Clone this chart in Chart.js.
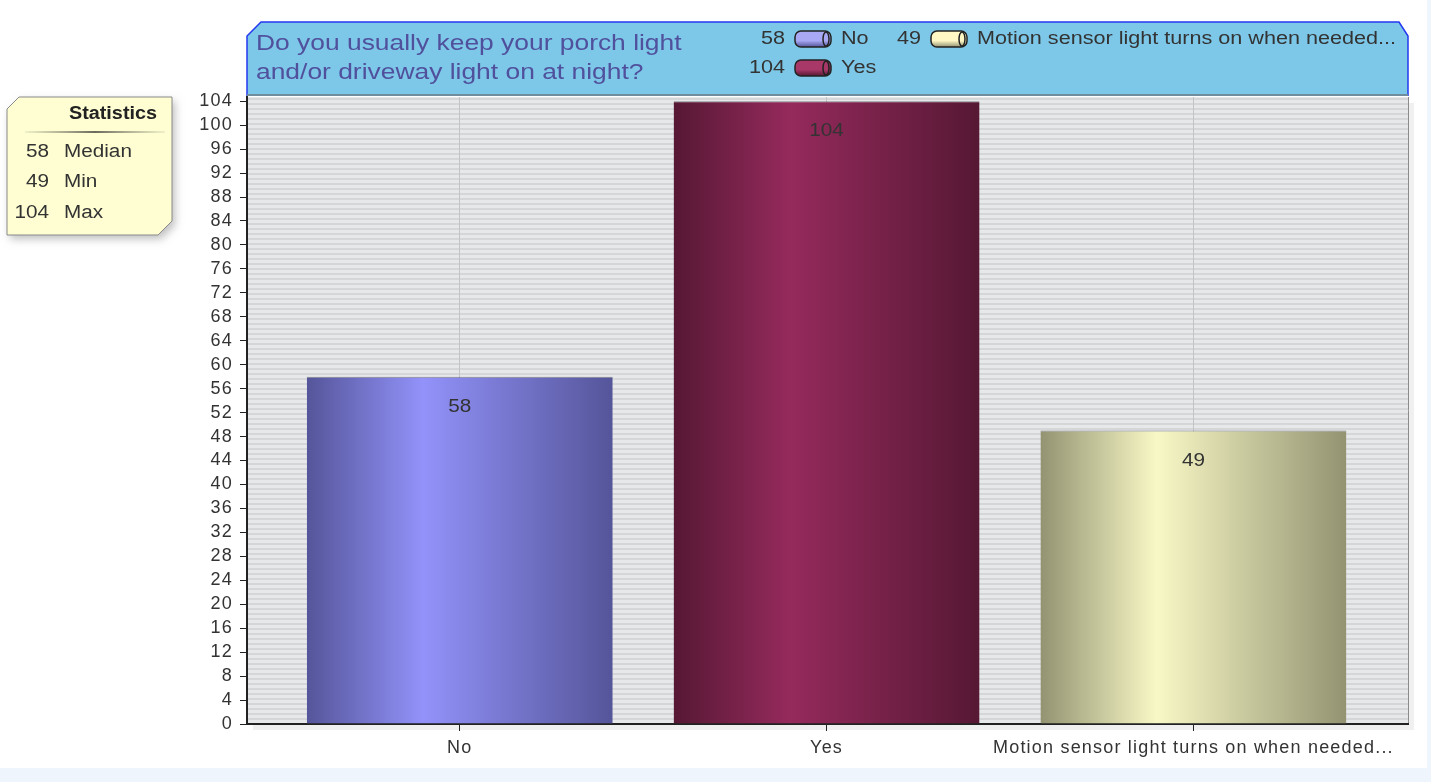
<!DOCTYPE html>
<html lang="en">

<head>
    <meta charset="UTF-8">
    <title>Porch light survey</title>
    <script src="https://cdn.jsdelivr.net/npm/chart.js"></script>
    <style>
        html, body {
            margin: 0;
            padding: 0;
            background: #eef5fd;
        }

        .page {
            position: relative;
            width: 1427px;
            height: 768px;
            background: #ffffff;
        }

        canvas {
            position: absolute;
            left: 0;
            top: 0;
        }
    </style>
</head>

<body>
    <div class="page">
        <canvas id="chart" width="1431" height="782"></canvas>
    </div>

    <script>
        const titleLines = ['Do you usually keep your porch light', 'and/or driveway light on at night?'];
        const categories = ['No', 'Yes', 'Motion sensor light turns on when needed...'];
        const answers = [58, 104, 49];
        const statLabels = ['Median', 'Min', 'Max'];
        const statValues = [58, 49, 104];

        // edge / centre colour of each bar gradient
        const edgeColors = ['#55559a', '#561834', '#939372'];
        const midColors = ['#9292fa', '#952a5c', '#f8f8c6'];
        const iconColors = ['#a8a8f4', '#a83868', '#fff8c4'];

        const FONT = '"Liberation Sans", Arial, sans-serif';
        const X_MIN = -0.58, X_MAX = 2.585, BAR_PCT = 0.834;

        // the source picture has its text stretched sideways a little
        function wideText(c, text, x, y, align, sx) {
            c.save();
            c.translate(x, y);
            c.scale(sx, 1);
            c.textAlign = align;
            c.fillText(text, 0, 0);
            c.restore();
        }

        function barGradient(ctx) {
            const chart = ctx.chart;
            const i = ctx.dataIndex;
            if (!chart.chartArea || i === undefined) return midColors[i || 0];
            const cx = chart.scales.x.getPixelForValue(i);
            const w = chart.chartArea.width / (X_MAX - X_MIN) * BAR_PCT;
            const g = chart.ctx.createLinearGradient(cx - w / 2, 0, cx + w / 2, 0);
            g.addColorStop(0, edgeColors[i]);
            g.addColorStop(0.38, midColors[i]);
            g.addColorStop(1, edgeColors[i]);
            return g;
        }

        function stripePattern(c) {
            const p = document.createElement('canvas');
            p.width = 4;
            p.height = 5;
            const pc = p.getContext('2d');
            pc.fillStyle = '#e7e8ea';
            pc.fillRect(0, 0, 4, 5);
            pc.fillStyle = '#d5d6d8';
            pc.fillRect(0, 3, 4, 2);
            return c.createPattern(p, 'repeat');
        }

        const decorations = {
            id: 'decorations',
            beforeDraw(chart) {
                const c = chart.ctx;
                const a = chart.chartArea;
                c.save();

                // plot shadow + striped background
                c.fillStyle = 'rgba(0,0,0,0.06)';
                c.fillRect(a.left + 6, a.top + 6, a.width, a.height);
                c.fillStyle = stripePattern(c);
                c.fillRect(a.left, a.top, a.width, a.height);
                c.strokeStyle = '#8c8c8c';
                c.lineWidth = 1;
                c.beginPath();
                c.moveTo(a.right + 0.5, a.top);
                c.lineTo(a.right + 0.5, a.bottom);
                c.stroke();

                // header box
                const hl = a.left, hr = a.right, ht = 22, hb = a.top - 1;
                const headerPath = () => {
                    c.beginPath();
                    c.moveTo(hl, hb);
                    c.lineTo(hl, ht + 14);
                    c.lineTo(hl + 14, ht);
                    c.lineTo(hr - 9, ht);
                    c.lineTo(hr, ht + 14);
                    c.lineTo(hr, hb);
                };
                headerPath();
                c.closePath();
                c.fillStyle = '#7dc8e8';
                c.fill();
                headerPath();
                c.strokeStyle = '#2438f0';
                c.lineWidth = 1.5;
                c.stroke();
                c.fillStyle = '#6f8d9c';
                c.fillRect(hl, hb - 2, hr - hl, 2);

                c.fillStyle = '#50509c';
                c.font = '22px ' + FONT;
                c.textBaseline = 'middle';
                titleLines.forEach((t, k) => wideText(c, t, 256, 44 + k * 29, 'left', 1.2));

                // legend in header
                const legendPos = [[785, 39], [785, 68], [921, 39]];
                c.font = '18px ' + FONT;
                categories.forEach((name, i) => {
                    const [x, y] = legendPos[i];
                    c.fillStyle = '#333';
                    wideText(c, String(answers[i]), x, y, 'right', 1.2);
                    const ix = x + 10, iw = 36, ih = 16;
                    const g = c.createLinearGradient(0, y - ih / 2, 0, y + ih / 2);
                    g.addColorStop(0, iconColors[i]);
                    g.addColorStop(0.6, iconColors[i]);
                    g.addColorStop(1, edgeColors[i]);
                    c.fillStyle = g;
                    c.beginPath();
                    c.roundRect(ix, y - ih / 2, iw, ih, 6);
                    c.fill();
                    c.strokeStyle = '#222';
                    c.lineWidth = 1.5;
                    c.stroke();
                    c.beginPath();
                    c.ellipse(ix + iw - 5, y, 3, ih / 2 - 1, 0, 0, Math.PI * 2);
                    c.stroke();
                    c.fillStyle = '#333';
                    wideText(c, name, ix + iw + 10, y, 'left', 1.2);
                });

                // statistics box
                const sl = 7, sr = 172, st = 97, sb = 235;
                const statPath = () => {
                    c.beginPath();
                    c.moveTo(sl, st + 12);
                    c.lineTo(sl + 12, st);
                    c.lineTo(sr, st);
                    c.lineTo(sr, sb - 14);
                    c.lineTo(sr - 14, sb);
                    c.lineTo(sl, sb);
                    c.closePath();
                };
                c.save();
                c.shadowColor = 'rgba(0,0,0,0.25)';
                c.shadowBlur = 8;
                c.shadowOffsetX = 3;
                c.shadowOffsetY = 4;
                statPath();
                c.fillStyle = '#fefed2';
                c.fill();
                c.restore();
                statPath();
                c.strokeStyle = '#8a8a8a';
                c.lineWidth = 1;
                c.stroke();
                const sep = c.createLinearGradient(25, 0, 165, 0);
                sep.addColorStop(0, 'rgba(120,120,100,0.1)');
                sep.addColorStop(0.5, 'rgba(90,90,80,0.9)');
                sep.addColorStop(1, 'rgba(120,120,100,0.1)');
                c.fillStyle = sep;
                c.fillRect(25, 131, 140, 2);

                c.fillStyle = '#222';
                c.font = 'bold 18px ' + FONT;
                wideText(c, 'Statistics', 157, 114, 'right', 1.1);
                c.font = '18px ' + FONT;
                c.fillStyle = '#333';
                statLabels.forEach((lab, k) => {
                    const y = 152 + k * 30.5;
                    wideText(c, String(statValues[k]), 49, y, 'right', 1.15);
                    wideText(c, lab, 64, y, 'left', 1.15);
                });
                c.restore();

                // widen the axis tick labels a bit too
                c.letterSpacing = '1.2px';
            },
            beforeDatasetsDraw(chart) {
                chart.ctx.letterSpacing = '0px';
            },
            afterDatasetsDraw(chart) {
                const c = chart.ctx;
                const meta = chart.getDatasetMeta(0);
                c.save();
                c.font = '18px ' + FONT;
                c.fillStyle = '#333';
                c.textBaseline = 'middle';
                meta.data.forEach((bar, i) => {
                    wideText(c, String(answers[i]), bar.x, bar.y + 30, 'center', 1.15);
                });
                c.restore();
            }
        };

        const ctx = document.getElementById('chart').getContext('2d');

        window.chartInstance = new Chart(ctx, {
            type: 'bar',
            data: {
                datasets: [{
                    data: answers.map((v, i) => ({ x: i, y: v })),
                    backgroundColor: barGradient,
                    borderColor: 'rgba(60,60,70,0.6)',
                    borderWidth: { top: 1, left: 0, right: 0, bottom: 0 },
                    barPercentage: BAR_PCT,
                    categoryPercentage: 1,
                }],
            },
            options: {
                responsive: false,
                animation: false,
                layout: { padding: { top: 97, right: 23, left: 0, bottom: 0 } },
                plugins: {
                    legend: { display: false },
                    tooltip: { enabled: false },
                },
                scales: {
                    x: {
                        type: 'linear',
                        min: X_MIN,
                        max: X_MAX,
                        offset: false,
                        afterFit: (s) => { s.height = 58; },
                        afterBuildTicks: (s) => { s.ticks = categories.map((_, i) => ({ value: i })); },
                        grid: {
                            offset: false,
                            color: '#c4c4c6',
                            lineWidth: 1,
                            tickColor: '#222',
                            tickLength: 7,
                        },
                        border: { color: '#222', width: 2 },
                        ticks: {
                            color: '#333',
                            padding: 6,
                            maxRotation: 0,
                            autoSkip: false,
                            font: { family: FONT, size: 18 },
                            callback: (v) => categories[v],
                        },
                    },
                    y: {
                        min: 0,
                        max: 104.7,
                        afterFit: (s) => { s.width = 247; },
                        afterBuildTicks: (s) => {
                            const t = [];
                            for (let v = 0; v <= 104; v += 4) t.push({ value: v });
                            s.ticks = t;
                        },
                        grid: {
                            drawOnChartArea: false,
                            tickColor: '#222',
                            tickLength: 7,
                        },
                        border: { color: '#222', width: 2 },
                        ticks: {
                            color: '#333',
                            padding: 7,
                            autoSkip: false,
                            font: { family: FONT, size: 18 },
                        },
                    },
                },
            },
            plugins: [decorations],
        });
    </script>
</body>

</html>
